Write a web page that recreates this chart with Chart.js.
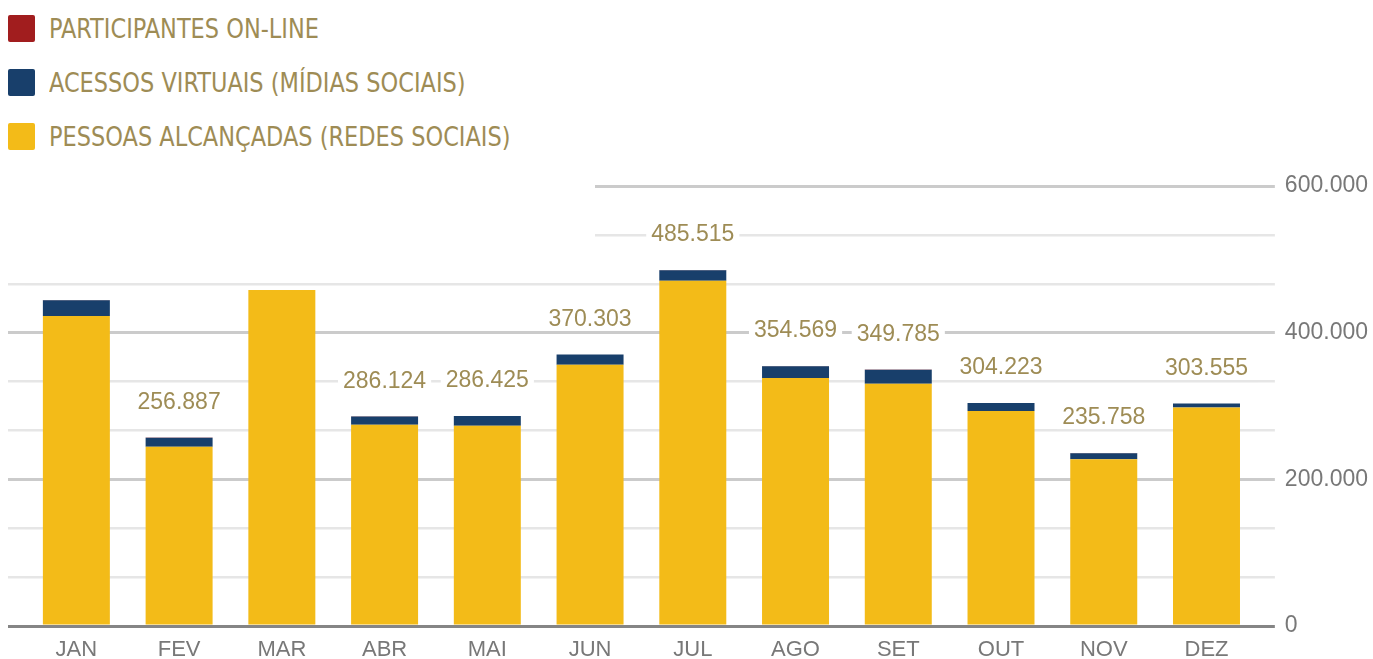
<!DOCTYPE html>
<html>
<head>
<meta charset="utf-8">
<script src="https://cdn.jsdelivr.net/npm/chart.js@4.4.1/dist/chart.umd.min.js"></script>
<style>
  html, body { margin: 0; padding: 0; background: #ffffff; }
  #wrap { position: relative; width: 1373px; height: 659px; overflow: hidden; }
  #c { position: absolute; left: 0; top: 0; }
  #legend {
    position: absolute; left: 0; top: 0; width: 595px; height: 282px;
    background: #ffffff;
    font-family: "Liberation Sans Narrow", "Arial Narrow", "DejaVu Sans Condensed", sans-serif;
    font-size: 27px; color: #9e8c55;
  }
  .item { position: absolute; left: 8px; height: 27px; display: flex; align-items: center; white-space: nowrap; }
  .sw { width: 27px; height: 27px; border-radius: 2px; margin-right: 14px; flex: none; }
  .tx { display: inline-block; transform: scaleX(0.925); transform-origin: left center; }
</style>
</head>
<body>
<div id="wrap">
  <canvas id="c" width="1373" height="659"></canvas>
  <div id="legend"></div>
</div>
<script>
// ---- data ----
const months = ['JAN','FEV','MAR','ABR','MAI','JUN','JUL','AGO','SET','OUT','NOV','DEZ'];
const participantesOnline = [300, 200, 0, 300, 200, 200, 300, 200, 300, 200, 200, 100];
const acessosVirtuais     = [21400, 12400, 0, 11400, 13000, 13800, 14300, 16200, 19000, 10800, 8300, 5400];
const pessoasAlcancadas   = [422800, 244287, 458200, 274424, 273225, 356303, 470915, 338169, 330485, 293223, 227258, 298055];
const seriesNames = ['PARTICIPANTES ON-LINE', 'ACESSOS VIRTUAIS (MÍDIAS SOCIAIS)', 'PESSOAS ALCANÇADAS (REDES SOCIAIS)'];
const seriesColors = ['#a11d1e', '#183f6b', '#f3bb18'];
const gridValues = [0, 66667, 133333, 200000, 266667, 333333, 400000, 466667, 533333, 600000];
const yTickLabels = [0, 200000, 400000, 600000];

function fmt(n) { return String(Math.round(n)).replace(/\B(?=(\d{3})+(?!\d))/g, '.'); }

// HTML legend
const legendEl = document.getElementById('legend');
seriesNames.forEach((name, i) => {
  const it = document.createElement('div');
  it.className = 'item';
  it.style.top = (15 + i * 54) + 'px';
  const sw = document.createElement('span');
  sw.className = 'sw';
  sw.style.background = seriesColors[i];
  const tx = document.createElement('span');
  tx.className = 'tx';
  tx.textContent = name;
  it.appendChild(sw); it.appendChild(tx);
  legendEl.appendChild(it);
});

const setTicks = axis => { axis.ticks = gridValues.map(v => ({ value: v })); };
const gridColor = ctx => ctx.index === 0 ? '#858585' : (ctx.index % 3 === 0 ? '#cbcbcb' : '#e6e6e6');
const gridWidth = ctx => ctx.index === 0 ? 3 : (ctx.index % 3 === 0 ? 3 : 2.5);

const totalsPlugin = {
  id: 'totals',
  afterDatasetsDraw(chart) {
    const ctx = chart.ctx;
    const y = chart.scales.y;
    const meta = chart.getDatasetMeta(0);
    const lw = legendEl.offsetWidth, lh = legendEl.offsetHeight;
    ctx.save();
    ctx.font = '23px "Liberation Sans", Arial, sans-serif';
    ctx.textAlign = 'center';
    ctx.textBaseline = 'middle';
    months.forEach((m, i) => {
      const total = participantesOnline[i] + acessosVirtuais[i] + pessoasAlcancadas[i];
      const x = meta.data[i].x;
      const cy = y.getPixelForValue(total) - 36;
      const text = fmt(total);
      const w = ctx.measureText(text).width + 10;
      const h = 24;
      // skip labels hidden under the legend panel
      if (x - w / 2 < lw && cy - h / 2 < lh) return;
      ctx.fillStyle = '#ffffff';
      ctx.fillRect(x - w / 2, cy - h / 2, w, h);
      ctx.fillStyle = '#9e8c55';
      ctx.fillText(text, x, cy + 1);
    });
    ctx.restore();
  }
};

new Chart(document.getElementById('c'), {
  type: 'bar',
  data: {
    labels: months,
    datasets: [
      { label: seriesNames[2], data: pessoasAlcancadas, backgroundColor: seriesColors[2], yAxisID: 'y' },
      { label: seriesNames[1], data: acessosVirtuais, backgroundColor: seriesColors[1], yAxisID: 'y' },
      { label: seriesNames[0], data: participantesOnline, backgroundColor: seriesColors[0], yAxisID: 'y' }
    ]
  },
  options: {
    responsive: false,
    animation: false,
    devicePixelRatio: 1,
    layout: { padding: { left: 8, right: -5, top: 186, bottom: -15 } },
    plugins: { legend: { display: false }, tooltip: { enabled: false } },
    datasets: { bar: { categoryPercentage: 1, barPercentage: 0.652, borderWidth: 0 } },
    scales: {
      x: {
        stacked: true,
        grid: { display: false, drawTicks: false },
        border: { display: false },
        ticks: { color: '#787878', padding: 13, font: { family: '"Liberation Sans", Arial, sans-serif', size: 22, lineHeight: 1 } }
      },
      y: {
        stacked: true,
        position: 'right',
        min: 0, max: 600000,
        afterBuildTicks: setTicks,
        grid: { color: gridColor, lineWidth: gridWidth, tickColor: gridColor, tickWidth: gridWidth, drawTicks: true, tickLength: 17 },
        border: { display: false },
        ticks: {
          color: '#787878', padding: 10,
          font: { family: '"Liberation Sans", Arial, sans-serif', size: 23, lineHeight: 0.1 },
          callback: v => (yTickLabels.some(t => Math.abs(t - v) < 1) ? fmt(v) : '')
        }
      },
      yL: {
        position: 'left',
        min: 0, max: 600000,
        afterBuildTicks: setTicks,
        grid: { drawOnChartArea: false, drawTicks: true, tickLength: 17, color: gridColor, lineWidth: gridWidth, tickColor: gridColor, tickWidth: gridWidth },
        border: { display: false },
        ticks: { display: false }
      }
    }
  },
  plugins: [totalsPlugin]
});
</script>
</body>
</html>
